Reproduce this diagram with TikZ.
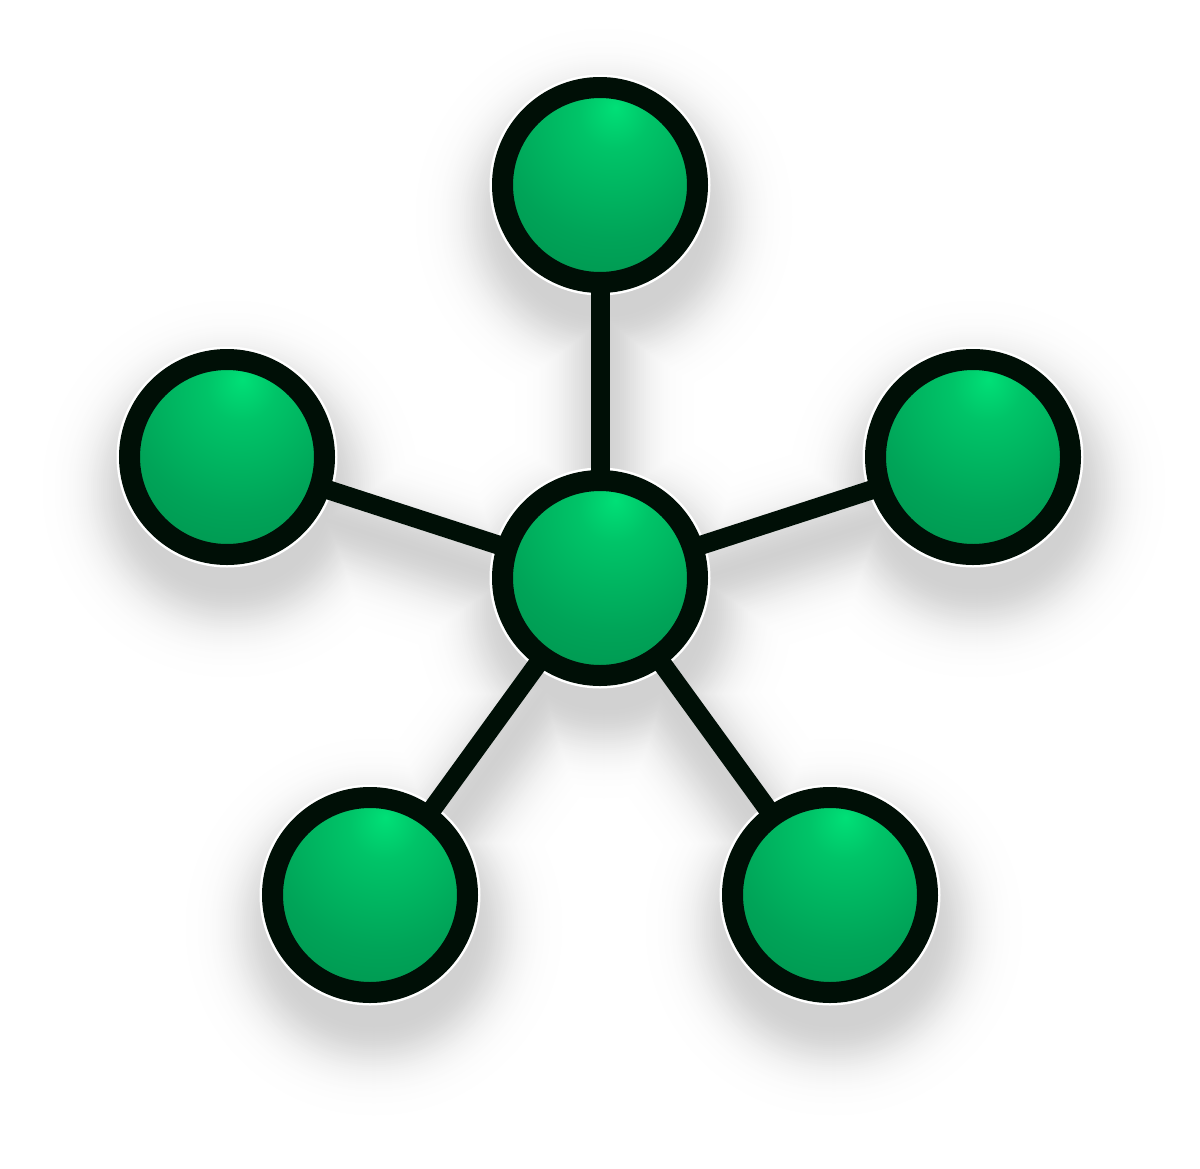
\documentclass[tikz,border=0pt]{standalone}
\usetikzlibrary{backgrounds}
\definecolor{gHi}{HTML}{00E077}
\definecolor{gA}{HTML}{00C468}
\definecolor{gMid}{HTML}{00A458}
\definecolor{gLo}{HTML}{008546}
\definecolor{rim}{HTML}{000F06}
\pgfdeclareradialshading{greenball}{\pgfpoint{4bp}{20bp}}{color(0bp)=(gHi); color(9bp)=(gA); color(28bp)=(gMid); color(56bp)=(gLo); color(100bp)=(gLo)}
\begin{document}
\begin{tikzpicture}[x=1pt,y=-1pt,
  ball/.style={circle, minimum size=195pt, inner sep=0pt, line width=21pt, draw=rim, shading=greenball},
  link/.style={draw=rim, line width=19pt}]
\useasboundingbox (0,0) rectangle (1200,1168);
\node[ball] (t)  at (600,185) {};
\node[ball] (l)  at (227,457) {};
\node[ball] (r)  at (973,457) {};
\node[ball] (c)  at (600,578) {};
\node[ball] (bl) at (370,895) {};
\node[ball] (br) at (830,895) {};
\begin{scope}[on background layer]
  \fill[white] (0,0) rectangle (1200,1168);
  \foreach \i in {0,...,45} {
    \pgfmathsetmacro\e{80-2*\i}
    \pgfmathsetmacro\g{18*exp(-((\e+10)/42)^2)}
    \begin{scope}[shift={(4,32)}]
      \foreach \p in {(600,185),(227,457),(973,457),(600,578),(370,895),(830,895)}
        \fill[black!\g] \p circle[radius=108+\e];
      \foreach \p in {(600,185),(227,457),(973,457),(370,895),(830,895)}
        \draw[black!\g, line width={max(19+2*\e,1)*1pt}] (600,578) -- \p;
    \end{scope}
  }
  \foreach \n in {t,l,r,c,bl,br}
    \fill[white] (\n.center) circle[radius=110.5];
  \foreach \n in {t,l,r,bl,br}
    \draw[link] (c.center) -- (\n.center);
\end{scope}
\end{tikzpicture}
\end{document}
